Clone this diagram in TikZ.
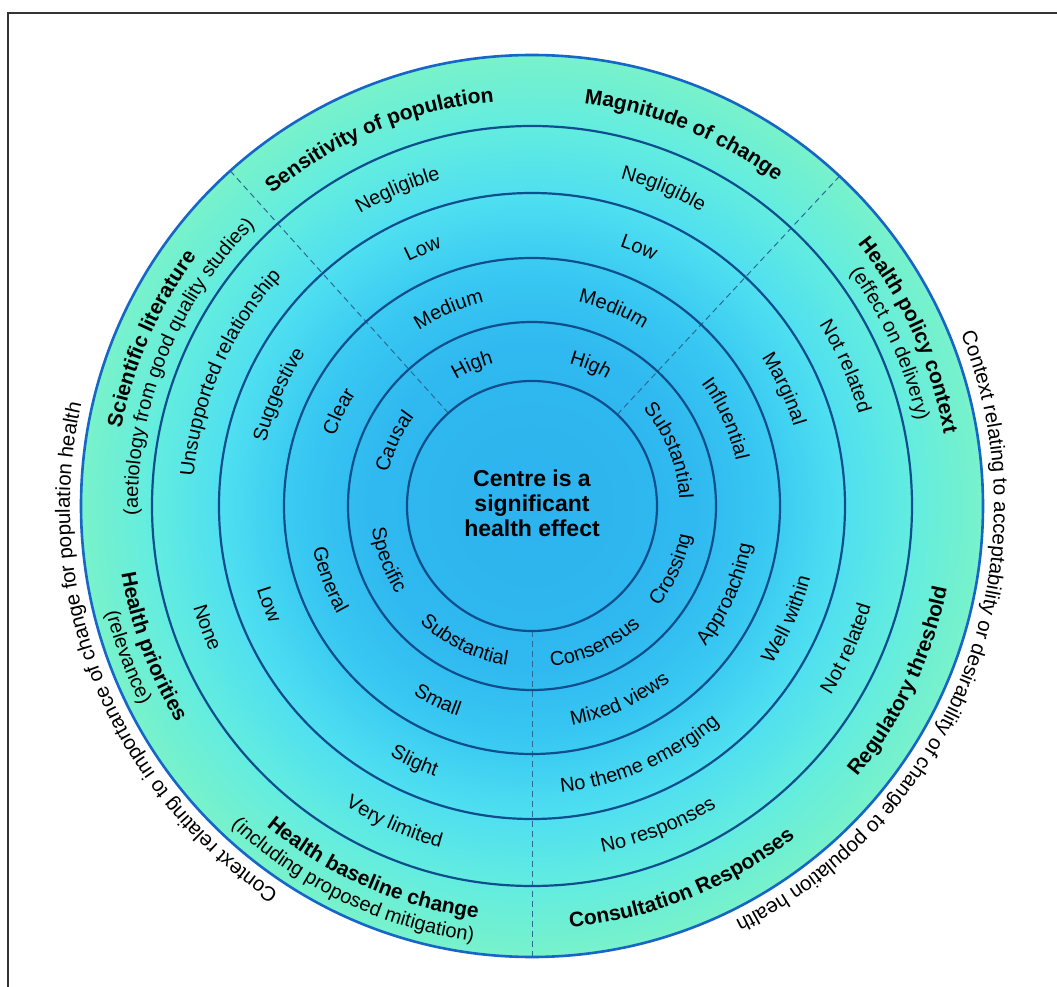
\documentclass[tikz,border=0pt]{standalone}
\usepackage{fontspec}
\setmainfont{Liberation Sans}
\usetikzlibrary{decorations.text}
\definecolor{cA}{HTML}{2DB2ED}
\definecolor{cB}{HTML}{30B9F0}
\definecolor{cC}{HTML}{38C8F2}
\definecolor{cD}{HTML}{4EDEF1}
\definecolor{cE}{HTML}{62ECE0}
\definecolor{cF}{HTML}{78F2CA}
\definecolor{ringblue}{HTML}{0E4E8C}
\definecolor{outerblue}{HTML}{1765C6}
\definecolor{dashblue}{HTML}{2C6A92}
\pgfdeclareradialshading{ringshade}{\pgfpoint{0bp}{0bp}}{color(0bp)=(cA); color(9bp)=(cB); color(13bp)=(cC); color(17bp)=(cD); color(21bp)=(cE); color(25bp)=(cF); color(50bp)=(cF)}
\newcommand{\myvalfont}{\fontsize{20}{24}\selectfont}
\newcommand{\myctxfont}{\fontsize{20.5}{24}\selectfont}
\newcommand{\mytitlefont}{\bfseries\fontsize{21}{25}\selectfont}
% clockwise text (tops outward): angle, radius, format, text
\newcommand{\cwlabel}[4]{\path[decorate,decoration={text along path,text align=center,text={|#3|#4}}] ({#1+45}:#2) arc[start angle={#1+45},end angle={#1-45},radius=#2];}
% counter-clockwise text (tops inward)
\newcommand{\ccwlabel}[4]{\path[decorate,decoration={text along path,text align=center,text={|#3|#4}}] ({#1-45}:#2) arc[start angle={#1-45},end angle={#1+45},radius=#2];}
\tikzset{
  ringline/.style={draw=ringblue, line width=2.2pt},
  outerline/.style={draw=outerblue, line width=2.6pt},
  divider/.style={draw=dashblue, line width=1pt, dash pattern=on 6pt off 4pt},
  frameline/.style={draw=black!80, line width=2pt},
  centretext/.style={font=\bfseries\fontsize{23}{25}\selectfont, align=center, text=black}
}
\begin{document}
\begin{tikzpicture}[x=1pt,y=1pt]
\useasboundingbox (-532,-481) rectangle (525,506);
\fill[white] (-532,-481) rectangle (525,506);
\draw[frameline] (-524,-490) -- (-524,493) -- (540,493);

% shaded disc
\shade[shading=ringshade] (0,0) circle[radius=451pt];

% dashed dividers
\coordinate (o) at (0,0);
\coordinate (d1a) at (47:125pt);  \coordinate (d1b) at (47:451pt);
\coordinate (d2a) at (132:125pt); \coordinate (d2b) at (132:451pt);
\coordinate (d3a) at (270:125pt); \coordinate (d3b) at (270:451pt);
\draw[divider] (d1a) -- (d1b);
\draw[divider] (d2a) -- (d2b);
\draw[divider] (d3a) -- (d3b);

% rings
\draw[ringline] (o) circle[radius=125pt];
\draw[ringline] (o) circle[radius=184pt];
\draw[ringline] (o) circle[radius=248pt];
\draw[ringline] (o) circle[radius=313pt];
\draw[ringline] (o) circle[radius=380pt];
\draw[outerline] (o) circle[radius=451pt];

% centre
\node[centretext] (centre) at (0,3) {Centre is a\\significant\\health effect};

% ---- Sensitivity of population (113, CW)
\cwlabel{112.6}{406pt}{\mytitlefont}{Sensitivity of population}
\cwlabel{113}{339.5pt}{\myvalfont}{Negligible}
\cwlabel{113}{273.5pt}{\myvalfont}{Low}
\cwlabel{113}{209pt}{\myvalfont}{Medium}
\cwlabel{113}{147.5pt}{\myvalfont}{High}

% ---- Magnitude of change (67.5, CW)
\cwlabel{67.8}{406pt}{\mytitlefont}{Magnitude of change}
\cwlabel{67.5}{339.5pt}{\myvalfont}{Negligible}
\cwlabel{67.5}{273.5pt}{\myvalfont}{Low}
\cwlabel{67.5}{209pt}{\myvalfont}{Medium}
\cwlabel{67.5}{147.5pt}{\myvalfont}{High}

% ---- Scientific literature (156, CW)
\cwlabel{156.3}{418pt}{\mytitlefont}{Scientific literature}
\cwlabel{158}{394pt}{\myvalfont}{(aetiology from good quality studies)}
\cwlabel{156.3}{339.5pt}{\myvalfont}{Unsupported relationship}
\cwlabel{156.3}{273.5pt}{\myvalfont}{Suggestive}
\cwlabel{154}{209pt}{\myvalfont}{Clear}
\cwlabel{155}{147.5pt}{\myvalfont}{Causal}

% ---- Health priorities (200.5, CCW)
\ccwlabel{200.3}{416pt}{\mytitlefont}{Health priorities}
\ccwlabel{200.5}{439pt}{\myvalfont}{(relevance)}
\ccwlabel{200.5}{353.5pt}{\myvalfont}{None}
\ccwlabel{200.5}{287.5pt}{\myvalfont}{Low}
\ccwlabel{200}{223pt}{\myvalfont}{General}
\ccwlabel{200.5}{161.5pt}{\myvalfont}{Specific}

% ---- Health baseline change (245.5, CCW)
\ccwlabel{246.4}{416pt}{\mytitlefont}{Health baseline change}
\ccwlabel{244.5}{439pt}{\myvalfont}{(including proposed mitigation)}
\ccwlabel{246.5}{353.5pt}{\myvalfont}{Very limited}
\ccwlabel{245.3}{287.5pt}{\myvalfont}{Slight}
\ccwlabel{244.2}{223pt}{\myvalfont}{Small}
\ccwlabel{243.5}{161.5pt}{\myvalfont}{Substantial}

% ---- Consultation Responses (292.5, CCW)
\ccwlabel{291.8}{423pt}{\mytitlefont}{Consultation Responses}
\ccwlabel{291.5}{353.5pt}{\myvalfont}{No responses}
\ccwlabel{293.3}{287.5pt}{\myvalfont}{No theme emerging}
\ccwlabel{294.3}{223pt}{\myvalfont}{Mixed views}
\ccwlabel{294.5}{161.5pt}{\myvalfont}{Consensus}

% ---- Regulatory threshold (335.5, CCW)
\ccwlabel{334.5}{423pt}{\mytitlefont}{Regulatory threshold}
\ccwlabel{335.6}{353.5pt}{\myvalfont}{Not related}
\ccwlabel{336}{287.5pt}{\myvalfont}{Well within}
\ccwlabel{335.5}{223pt}{\myvalfont}{Approaching}
\ccwlabel{335.5}{161.5pt}{\myvalfont}{Crossing}

% ---- Health policy context (24, CW)
\cwlabel{24.4}{418pt}{\mytitlefont}{Health policy context}
\cwlabel{24.4}{394pt}{\myvalfont}{(effect on delivery)}
\cwlabel{24}{339.5pt}{\myvalfont}{Not related}
\cwlabel{24.9}{273.5pt}{\myvalfont}{Marginal}
\cwlabel{24.3}{209pt}{\myvalfont}{Influential}
\cwlabel{22}{147.5pt}{\myvalfont}{Substantial}

% ---- outer context texts
\path[decorate,decoration={text along path,text align=center,text={|\myctxfont|Context relating to importance of change for population health}}] (262:462pt) arc[start angle=262,end angle=142,radius=462pt];
\path[decorate,decoration={text along path,text align=center,text={|\myctxfont|Context relating to acceptability or desirability of change to population health}}] (39:462pt) arc[start angle=39,end angle=-81,radius=462pt];
\end{tikzpicture}
\end{document}
